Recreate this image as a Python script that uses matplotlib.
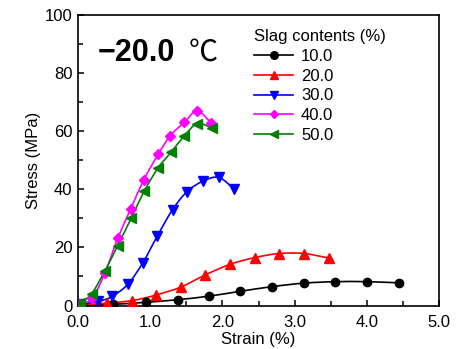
import matplotlib
matplotlib.use("Agg")
import matplotlib.pyplot as plt
import numpy as np
from matplotlib.path import Path
from matplotlib.patches import PathPatch
from matplotlib.lines import Line2D
from matplotlib.ticker import MultipleLocator

plt.rcParams['font.family'] = ['Liberation Sans', 'DejaVu Sans']

# values
strain_10 = [0.05, 0.49, 0.94, 1.38, 1.81, 2.25, 2.69, 3.13, 3.56, 4.00, 4.44]
stress_10 = [0.0, 0.4, 1.1, 2.0, 3.2, 4.9, 6.5, 7.7, 8.2, 8.2, 7.8]
strain_20 = [0.06, 0.40, 0.75, 1.08, 1.43, 1.76, 2.11, 2.45, 2.79, 3.13, 3.48]
stress_20 = [0.3, 0.8, 1.7, 3.6, 6.4, 10.5, 14.2, 16.5, 17.9, 17.9, 16.3]
strain_30 = [0.03, 0.28, 0.47, 0.69, 0.90, 1.10, 1.31, 1.51, 1.73, 1.95, 2.16]
stress_30 = [0.5, 1.4, 3.1, 7.3, 14.8, 24.0, 33.0, 39.2, 42.8, 44.1, 40.1]
strain_40 = [0.03, 0.20, 0.375, 0.55, 0.73, 0.91, 1.11, 1.28, 1.47, 1.65, 1.84]
stress_40 = [0.4, 2.6, 11.3, 23.1, 33.2, 43.2, 52.0, 58.5, 63.0, 67.0, 62.9]
strain_50 = [0.03, 0.19, 0.37, 0.55, 0.74, 0.92, 1.11, 1.29, 1.47, 1.65, 1.85]
stress_50 = [0.8, 4.1, 11.8, 20.6, 30.2, 39.5, 47.4, 52.8, 58.3, 62.6, 61.2]

labels = ['10.0', '20.0', '30.0', '40.0', '50.0']
colors = ['black', '#ff0000', '#0000ff', '#ff00ff', '#008000']
markers = ['o', '^', 'v', 'D', '<']
sizes = [6, 6.5, 6.5, 5, 6.5]

series = [(strain_10, stress_10), (strain_20, stress_20), (strain_30, stress_30),
          (strain_40, stress_40), (strain_50, stress_50)]


def smooth_path(x, y):
    # catmull-rom through the points, drawn as bezier segments
    pts = np.column_stack([x, y])
    verts = [pts[0]]
    codes = [Path.MOVETO]
    n = len(pts)
    for i in range(n - 1):
        p0 = pts[i - 1] if i > 0 else pts[i]
        p1 = pts[i]
        p2 = pts[i + 1]
        p3 = pts[i + 2] if i + 2 < n else pts[i + 1]
        c1 = p1 + (p2 - p0) / 6.0
        c2 = p2 - (p3 - p1) / 6.0
        verts += [c1, c2, p2]
        codes += [Path.CURVE4] * 3
    return Path(verts, codes)


fig = plt.figure(figsize=(4.66, 3.49), dpi=100)
ax = fig.add_axes([78 / 466, 1 - 305.5 / 349, (439 - 78) / 466, (305.5 - 15) / 349])

handles = []
for (x, y), c, m, s, lab in zip(series, colors, markers, sizes, labels):
    ax.add_patch(PathPatch(smooth_path(x, y), fill=False, edgecolor=c, lw=1.2))
    ax.plot(x, y, ls='none', marker=m, ms=s, color=c, mec=c, zorder=3)
    handles.append(Line2D([], [], color=c, lw=1.2, marker=m, ms=s - 0.5))

ax.set_xlim(0, 5)
ax.set_ylim(0, 100)
ax.set_xticks(np.arange(0, 5.1, 1))
ax.set_xticklabels(['%.1f' % v for v in np.arange(0, 5.1, 1)])
ax.xaxis.set_minor_locator(MultipleLocator(0.5))
ax.yaxis.set_major_locator(MultipleLocator(20))
ax.yaxis.set_minor_locator(MultipleLocator(10))
ax.tick_params(which='both', direction='in', labelsize=12, width=1.1)
ax.tick_params(which='major', length=4.5)
ax.tick_params(which='minor', length=3.5)
ax.tick_params(axis='x', pad=7)
ax.tick_params(axis='y', pad=4)
for sp in ax.spines.values():
    sp.set_linewidth(1.2)

ax.set_xlabel('Strain (%)', fontsize=12, labelpad=1.5)
ax.set_ylabel('Stress (MPa)', fontsize=12, labelpad=3)

leg = ax.legend(handles, labels, title='Slag contents (%)', loc='upper left',
                bbox_to_anchor=(246 / 466, 1 - 21 / 349), bbox_transform=fig.transFigure,
                frameon=False, fontsize=12, title_fontsize=12, numpoints=1,
                handlelength=2.3, handletextpad=0.5, labelspacing=0.28,
                borderpad=0, alignment='left')

fig.text(98 / 466, 1 - 61 / 349, '\u221220.0', fontsize=22, fontweight='bold',
         va='baseline', ha='left')
fig.text(189 / 466, 1 - 61 / 349, '\u2103', fontsize=21, family=['Noto Sans CJK SC', 'DejaVu Sans'],
         va='baseline', ha='left')

fig.savefig('out.png', dpi=100)
